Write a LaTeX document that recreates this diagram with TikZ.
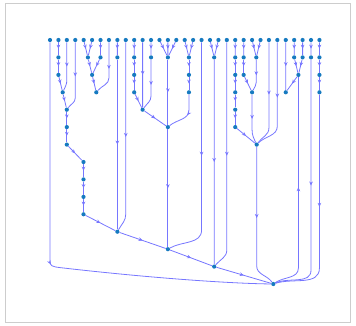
\documentclass[tikz,border=0pt]{standalone}
\usetikzlibrary{arrows.meta,decorations.markings}
\definecolor{ecol}{RGB}{118,118,255}
\definecolor{ncol}{RGB}{22,122,192}
\definecolor{fcol}{RGB}{205,205,205}
\tikzset{
  dot/.style={circle,fill=ncol,draw=none,inner sep=0pt,minimum size=4.2pt},
  e/.style={color=ecol,line width=0.8pt,postaction={decorate},
    decoration={markings,mark=at position 0.5 with {\arrow{Stealth[length=4pt,width=3.6pt]}}}},
}
\newcommand\bentedge[4]{\draw[e] (#1) -- (#1 |- 0,#3) to[out=-90,in=#4] (#2);}
\begin{document}
\begin{tikzpicture}[x=1pt,y=1pt]
\useasboundingbox (0,0) rectangle (356,-326);
\draw[fcol,line width=0.6pt] (5,-3.5) rectangle (350.5,-322);
% rows
\def\ra{-57.4}\def\rb{-74.9}\def\rc{-92.3}\def\rd{-109.7}\def\re{-127.1}
\def\rf{-144.6}\def\rg{-162.0}\def\rh{-179.4}\def\ri{-196.9}\def\rj{-214.3}
\def\rk{-231.7}\def\rl{-249.2}\def\rm{-266.6}\def\rn{-284.0}
% leaves
\foreach \i in {0,...,32} \node[dot] (L\i) at ({50+8.42*\i},-40) {};
% internal nodes
\node[dot] (A) at (58.42,\ra) {};
\node[dot] (B) at (58.42,\rb) {};
\node[dot] (C) at (62.7,\rc) {};
\node[dot] (D) at (66.8,\rd) {};
\node[dot] (D2) at (66.8,\re) {};
\node[dot] (D3) at (66.8,\rf) {};
\node[dot] (K) at (83.5,\rg) {};
\node[dot] (K2) at (83.5,\rh) {};
\node[dot] (K3) at (83.5,\ri) {};
\node[dot] (K4) at (83.5,\rj) {};
\node[dot] (M) at (117.36,\rk) {};
\node[dot] (N) at (167.88,\rl) {};
\node[dot] (P) at (214.2,\rm) {};
\node[dot] (Root) at (273.3,\rn) {};
\node[dot] (E) at (87.9,\ra) {};
\node[dot] (F) at (92.1,\rb) {};
\node[dot] (G) at (96.3,\rc) {};
\node[dot] (H) at (100.52,\ra) {};
\node[dot] (Q) at (117.36,\ra) {};
\node[dot] (R1) at (134.2,\ra) {};
\node[dot] (R2) at (134.2,\rb) {};
\node[dot] (R3) at (134.2,\rc) {};
\node[dot] (S) at (142.62,\rd) {};
\node[dot] (T) at (151.04,\ra) {};
\node[dot] (U) at (167.88,\ra) {};
\node[dot] (V1) at (188.93,\ra) {};
\node[dot] (V2) at (188.93,\rb) {};
\node[dot] (V3) at (188.93,\rc) {};
\node[dot] (W) at (167.88,\re) {};
\node[dot] (X) at (214.19,\ra) {};
\node[dot] (Y1) at (235.24,\ra) {};
\node[dot] (Y2) at (235.24,\rb) {};
\node[dot] (Y3) at (235.24,\rc) {};
\node[dot] (Y4) at (235.24,\rd) {};
\node[dot] (Y5) at (235.24,\re) {};
\node[dot] (Z) at (256.7,\rf) {};
\node[dot] (AA1) at (243.66,\ra) {};
\node[dot] (AA2) at (243.66,\rb) {};
\node[dot] (AB) at (252.08,\rc) {};
\node[dot] (AC) at (256.3,\ra) {};
\node[dot] (AD) at (285.76,\rc) {};
\node[dot] (AE) at (294.18,\ra) {};
\node[dot] (AF) at (302.6,\ra) {};
\node[dot] (AG) at (298.4,\rb) {};
\node[dot] (AH) at (311.02,\ra) {};
\node[dot] (AI1) at (319.44,\ra) {};
\node[dot] (AI2) at (319.44,\rb) {};
\node[dot] (AI3) at (319.44,\rc) {};
% straight edges
\foreach \s/\t in {L1/A,A/B,B/C,C/D,D/D2,D2/D3,D3/K,K/K2,K2/K3,K3/K4,K4/M,M/N,N/P,P/Root,
  L4/E,L5/E,E/F,F/G,L6/H,H/F,L8/Q,Q/M,L10/R1,R1/R2,R2/R3,R3/S,L11/S,L12/T,
  L13/U,L14/U,L15/U,U/W,L16/V1,L17/V1,V1/V2,V2/V3,S/W,W/N,L19/X,L20/X,X/P,
  L22/Y1,Y1/Y2,Y2/Y3,Y3/Y4,Y4/Y5,Y5/Z,L23/AA1,AA1/AA2,AA2/AB,L24/AC,L25/AC,
  L28/AD,L29/AE,L30/AF,AE/AG,AF/AG,AG/AD,L31/AH,L32/AI1,AI1/AI2,AI2/AI3}
  \draw[e] (\s) -- (\t);
% bent edges
\bentedge{L2}{C}{-80}{65}
\bentedge{L3}{D}{-98}{55}
\bentedge{L7}{G}{-78}{50}
\bentedge{T}{S}{-96}{55}
\bentedge{L9}{M}{-214}{60}
\bentedge{V3}{W}{-110}{40}
\bentedge{L18}{N}{-230}{30}
\bentedge{L21}{P}{-250}{50}
\bentedge{AC}{AB}{-82}{65}
\bentedge{AB}{Z}{-130}{115}
\bentedge{L26}{Z}{-128}{55}
\bentedge{L27}{Z}{-126}{45}
\bentedge{Z}{Root}{-266}{125}
\bentedge{AH}{Root}{-270}{25}
\bentedge{AI3}{Root}{-268}{18}
\draw[e] (Root) to[out=35,in=-90] (298.4,-268) -- (AG);
\draw[e] (L0) -- (50,-261) .. controls (50,-266) and (52,-266.6) .. (60,-267.6)
  .. controls (150,-278) and (230,-283.5) .. (Root);
\end{tikzpicture}
\end{document}
